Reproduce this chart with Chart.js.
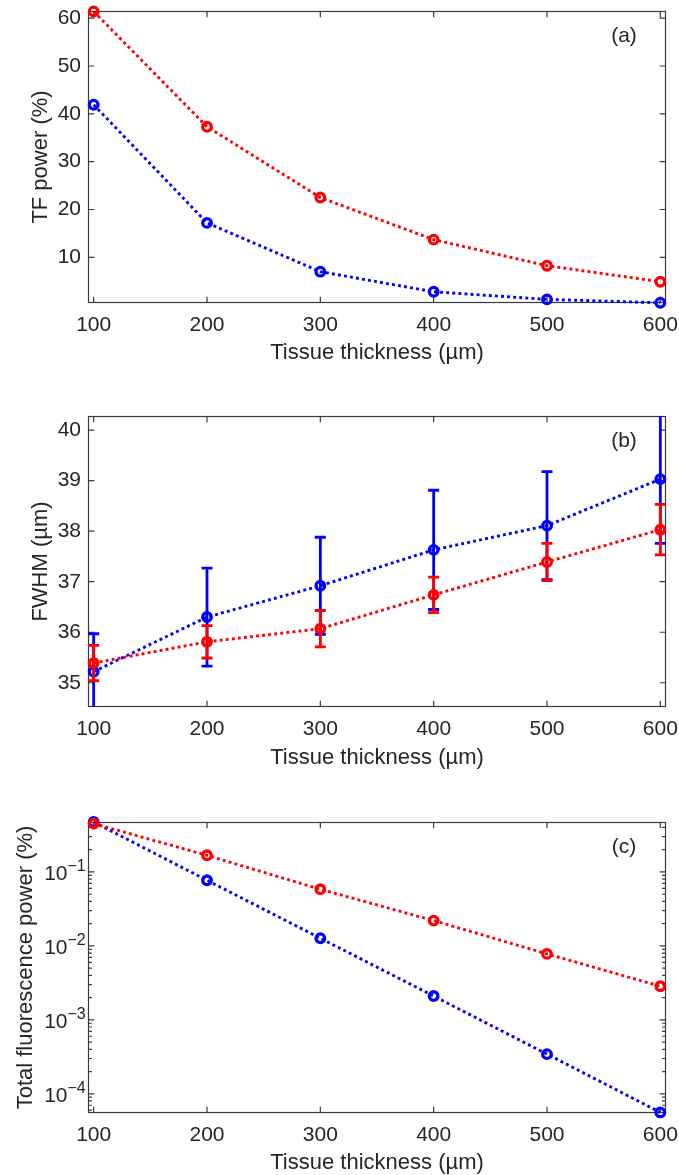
<!DOCTYPE html>
<html><head><meta charset="utf-8">
<script src="https://cdn.jsdelivr.net/npm/chart.js@4.4.1/dist/chart.umd.min.js"></script>
<style>
html,body{margin:0;padding:0;background:#fff;}
body{width:679px;height:1175px;position:relative;overflow:hidden;}
canvas{position:absolute;left:0;}
</style></head><body>
<canvas id="ca" width="679" height="370" style="top:0px;width:679px;height:370px"></canvas>
<canvas id="cb" width="679" height="400" style="top:370px;width:679px;height:400px"></canvas>
<canvas id="cc" width="679" height="405" style="top:770px;width:679px;height:405px"></canvas>
<script>
// ---------------- data ----------------
const thickness = [100, 200, 300, 400, 500, 600];
const xTickValues = [100, 200, 300, 400, 500, 600];

const tfPowerRed  = [61.4, 37.3, 22.5, 13.7, 8.25, 4.9];
const tfPowerBlue = [41.9, 17.2, 7.0, 2.8, 1.2, 0.5];
const tfTicks = [10, 20, 30, 40, 50, 60];

const fwhmRed     = [35.39, 35.81, 36.07, 36.74, 37.39, 38.03];
const fwhmRedErr  = [0.35, 0.32, 0.36, 0.35, 0.37, 0.50];
const fwhmBlue    = [35.22, 36.30, 36.92, 37.63, 38.11, 39.03];
const fwhmBlueErr = [0.75, 0.97, 0.96, 1.18, 1.07, 1.27];
const fwhmTicks = [35, 36, 37, 38, 39, 40];

const fluoRed  = [0.451, 0.168, 0.0583, 0.022, 0.0078, 0.00285];
const fluoBlue = [0.474, 0.0772, 0.0127, 0.0021, 0.000344, 0.000056];
const fluoTicks = [1e-4, 1e-3, 1e-2, 1e-1];

const panelLabels = ['(a)', '(b)', '(c)'];
const xTitle = 'Tissue thickness (µm)';
const yTitles = ['TF power (%)', 'FWHM (µm)', 'Total fluorescence power (%)'];

// ---------------- style ----------------
const FONT = '"Liberation Sans", Arial, Helvetica, sans-serif';
const AX = '#262626';
const RED = '#ff0000';
const BLUE = '#0000ff';

function font(size) { return { family: FONT, size: size, lineHeight: 1 }; }

function series(values, color) {
  return {
    data: thickness.map((x, i) => ({ x: x, y: values[i] })),
    borderColor: color, backgroundColor: color,
    borderWidth: 2.9, borderDash: [2.9, 3.2], borderCapStyle: 'butt',
    pointStyle: 'circle', pointRadius: 4.3, pointHoverRadius: 4.3,
    pointBorderWidth: 3.3, pointBackgroundColor: 'rgba(0,0,0,0)', pointBorderColor: color,
    tension: 0, fill: false, clip: false
  };
}

function matlabPlugin(cfg) {
  return {
    id: 'matlab_' + cfg.label,
    beforeDatasetsDraw(chart) {
      const ctx = chart.ctx, ca = chart.chartArea, xs = chart.scales.x, ys = chart.scales.y;
      ctx.save();
      ctx.strokeStyle = '#3a3a3a';
      ctx.lineWidth = 1.2;
      ctx.setLineDash([]);
      const L = Math.round(ca.left) + 0.5, R = Math.round(ca.right) - 0.5;
      const T = Math.round(ca.top) + 0.5, B = Math.round(ca.bottom) - 0.5;
      ctx.strokeRect(L, T, R - L, B - T);
      const maj = 5.8, minr = 3.4;
      ctx.beginPath();
      xTickValues.forEach(v => {
        const px = xs.getPixelForValue(v);
        ctx.moveTo(px, B); ctx.lineTo(px, B - maj);
        ctx.moveTo(px, T); ctx.lineTo(px, T + maj);
      });
      cfg.yTicks.forEach(v => {
        const py = ys.getPixelForValue(v);
        ctx.moveTo(L, py); ctx.lineTo(L + maj, py);
        ctx.moveTo(R, py); ctx.lineTo(R - maj, py);
      });
      if (cfg.log) {
        const lo = Math.floor(Math.log10(ys.min)), hi = Math.ceil(Math.log10(ys.max));
        for (let k = lo; k <= hi; k++) {
          for (let m = 2; m <= 9; m++) {
            const v = m * Math.pow(10, k);
            if (v < ys.min || v > ys.max) continue;
            const py = ys.getPixelForValue(v);
            ctx.moveTo(L, py); ctx.lineTo(L + minr, py);
            ctx.moveTo(R, py); ctx.lineTo(R - minr, py);
          }
        }
      }
      ctx.stroke();
      ctx.restore();
    },
    beforeDatasetDraw(chart, args) {
      if (!cfg.errors) return;
      const e = cfg.errors[args.index];
      if (!e) return;
      const ds = chart.data.datasets[args.index];
      const ctx = chart.ctx, ca = chart.chartArea, xs = chart.scales.x, ys = chart.scales.y;
      ctx.save();
      ctx.beginPath();
      ctx.rect(ca.left, ca.top, ca.right - ca.left, ca.bottom - ca.top);
      ctx.clip();
      ctx.strokeStyle = ds.borderColor;
      ctx.lineWidth = 2.8;
      ctx.setLineDash([]);
      ctx.lineCap = 'butt';
      ctx.beginPath();
      ds.data.forEach((p, i) => {
        const px = xs.getPixelForValue(p.x);
        const yt = ys.getPixelForValue(p.y + e[i]);
        const yb = ys.getPixelForValue(p.y - e[i]);
        ctx.moveTo(px, yt); ctx.lineTo(px, yb);
        ctx.moveTo(px - 5.5, yt); ctx.lineTo(px + 5.5, yt);
        ctx.moveTo(px - 5.5, yb); ctx.lineTo(px + 5.5, yb);
      });
      ctx.stroke();
      ctx.restore();
    },
    afterDraw(chart) {
      const ctx = chart.ctx, ca = chart.chartArea, ys = chart.scales.y;
      ctx.save();
      ctx.fillStyle = AX;
      ctx.textBaseline = 'middle';
      if (cfg.log) {
        cfg.yTicks.forEach(v => {
          const py = ys.getPixelForValue(v);
          const ex = Math.round(Math.log10(v));
          const exStr = (ex < 0 ? '\u2212' : '') + Math.abs(ex);
          ctx.font = '21px ' + FONT;
          ctx.textAlign = 'right';
          ctx.fillText('10', 67.5, py + 2);
          ctx.font = '16px ' + FONT;
          ctx.textAlign = 'left';
          ctx.fillText(exStr, 67.5, py - 5.5);
        });
      }
      ctx.font = '21px ' + FONT;
      ctx.textAlign = 'center';
      ctx.fillText(cfg.label, ca.right - 42, ca.top + 25);
      ctx.restore();
    }
  };
}

function makeChart(id, cfg) {
  const yScale = {
    type: cfg.log ? 'logarithmic' : 'linear',
    min: cfg.yMin, max: cfg.yMax,
    grid: { display: false, drawTicks: false, tickLength: 0 }, border: { display: false },
    afterBuildTicks: s => { s.ticks = cfg.yTicks.map(v => ({ value: v })); },
    afterFit: s => { s.width = 88; s.paddingTop = 0; s.paddingBottom = 0; },
    ticks: { display: !cfg.log, color: AX, font: font(21), padding: 7, autoSkip: false,
             callback: v => String(v) },
    title: { display: true, text: cfg.yTitle, color: AX, font: font(22),
             padding: { top: cfg.yTitlePad, bottom: 0 } }
  };
  return new Chart(document.getElementById(id), {
    type: 'line',
    data: { datasets: cfg.datasets },
    options: {
      responsive: false, animation: false, devicePixelRatio: 1,
      events: [],
      layout: { padding: { top: cfg.padTop, right: 13, bottom: 0, left: 0 } },
      plugins: { legend: { display: false }, tooltip: { enabled: false } },
      scales: {
        x: {
          type: 'linear', min: 95, max: 605,
          grid: { display: false, drawTicks: false, tickLength: 0 }, border: { display: false },
          afterBuildTicks: s => { s.ticks = xTickValues.map(v => ({ value: v })); },
          afterFit: s => { s.height = cfg.xHeight; s.paddingLeft = 0; s.paddingRight = 0; },
          ticks: { color: AX, font: font(21), padding: 12, maxRotation: 0, autoSkip: false,
                   callback: v => String(v) },
          title: { display: true, text: xTitle, color: AX, font: font(22),
                   padding: { top: 0, bottom: cfg.xTitlePad } }
        },
        y: yScale
      }
    },
    plugins: [matlabPlugin(cfg)]
  });
}

makeChart('ca', {
  label: panelLabels[0], yTitle: yTitles[0], yTitlePad: 29.5,
  padTop: 11, xHeight: 67, xTitlePad: 6,
  yMin: 0.45, yMax: 61.5, yTicks: tfTicks,
  datasets: [series(tfPowerRed, RED), series(tfPowerBlue, BLUE)]
});

makeChart('cb', {
  label: panelLabels[1], yTitle: yTitles[1], yTitlePad: 29.5,
  padTop: 46, xHeight: 63, xTitlePad: 1.5,
  yMin: 34.52, yMax: 40.28, yTicks: fwhmTicks,
  errors: { 0: fwhmRedErr, 1: fwhmBlueErr },
  datasets: [series(fwhmRed, RED), series(fwhmBlue, BLUE)]
});

makeChart('cc', {
  label: panelLabels[2], yTitle: yTitles[2], yTitlePad: 14.5, log: true,
  padTop: 52, xHeight: 62, xTitlePad: 1.5,
  yMin: 5.5e-5, yMax: 0.474, yTicks: fluoTicks,
  datasets: [series(fluoRed, RED), series(fluoBlue, BLUE)]
});
</script>
</body></html>
